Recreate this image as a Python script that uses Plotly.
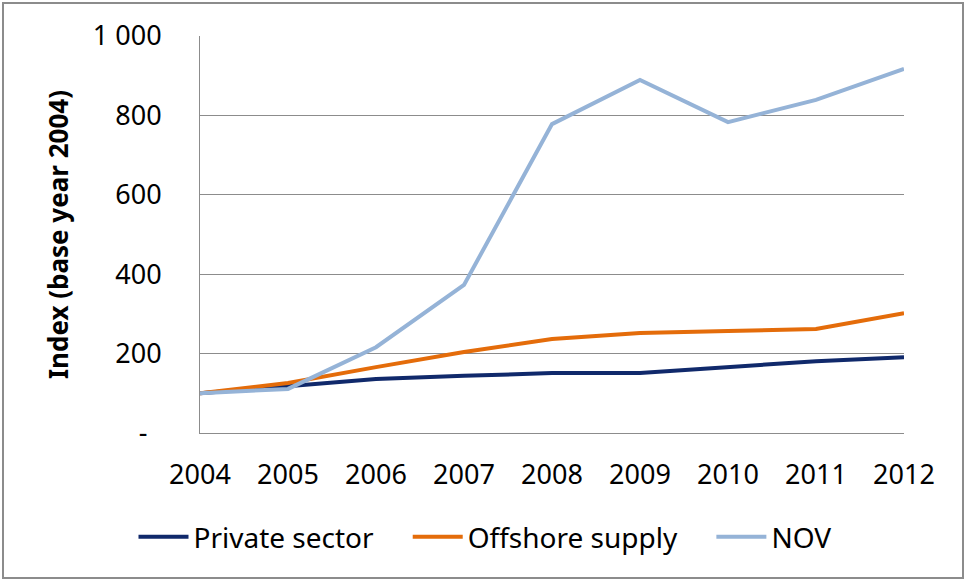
import plotly.graph_objects as go

years = [2004, 2005, 2006, 2007, 2008, 2009, 2010, 2011, 2012]
private_sector = [100, 118, 136, 144, 151, 151, 166, 181, 191]
offshore_supply = [100, 126, 166, 204, 237, 252, 257, 262, 302]
nov = [100, 111, 216, 373, 778, 889, 783, 839, 917]
y_ticks = [0, 200, 400, 600, 800, 1000]
y_tick_labels = ["-\u00a0\u00a0", "200", "400", "600", "800", "1 000"]

FONT = "Noto Sans"
W, H = 966, 581
L, R, T, B = 200, 904, 36, 433

PAD = "\u00a0" * 4
fig = go.Figure()
for name, vals, col in [("Private sector", private_sector, "#10296B"),
                        ("Offshore supply", offshore_supply, "#E46C0A"),
                        ("NOV", nov, "#95B3D7")]:
    fig.add_trace(go.Scatter(x=years, y=vals, name=name + (PAD if name != "NOV" else ""),
                             mode="lines", line=dict(color=col, width=4), cliponaxis=False))

pw, ph = R - L, B - T
def px(x): return (x - L) / pw
def py(y): return (B - y) / ph

fig.update_layout(
    width=W, height=H,
    margin=dict(l=L, r=W - R, t=T, b=H - B),
    paper_bgcolor="white", plot_bgcolor="white",
    font=dict(family=FONT, size=27, color="black"),
    showlegend=True,
    legend=dict(orientation="h", x=px(485), y=py(537), xanchor="center", yanchor="middle",
                font=dict(size=28), itemwidth=50, traceorder="normal"),
    xaxis=dict(range=[2004, 2012], tickmode="array", tickvals=years,
               ticktext=[str(y) for y in years], showgrid=False, zeroline=False,
               showline=True, linecolor="#8C8C8C", linewidth=1, ticks="",
               ticklabelstandoff=18),
    yaxis=dict(range=[0, 1000], tickmode="array", tickvals=y_ticks, ticktext=y_tick_labels,
               showgrid=True, gridcolor="#8C8C8C", gridwidth=1, zeroline=False,
               showline=True, linecolor="#8C8C8C", linewidth=1, ticks="",
               ticklabelstandoff=32,
               title=dict(text="<b>Index (base year 2004)</b>", font=dict(size=26), standoff=16)),
    shapes=[dict(type="rect", xref="paper", yref="paper",
                 x0=px(3), x1=px(963), y0=py(3), y1=py(578),
                 line=dict(color="#8C8C8C", width=2), fillcolor="rgba(0,0,0,0)", layer="below")],
)

fig.write_html("out.html", config={"displayModeBar": False},
               post_script="document.body.style.margin='0';document.body.style.overflow='hidden';")
